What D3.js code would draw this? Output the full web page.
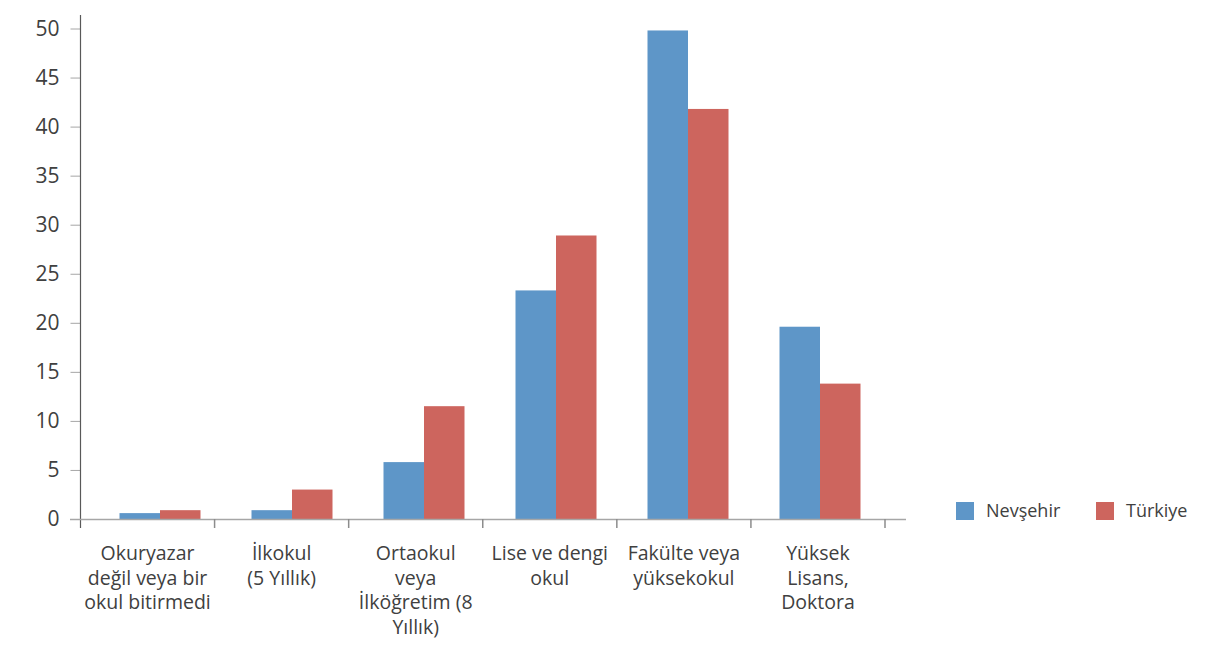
<!DOCTYPE html>
<html><head><meta charset="utf-8">
<script src="https://cdn.jsdelivr.net/npm/d3@7"></script>
<style>
html,body{margin:0;padding:0;background:#fff;}
svg text{font-family:"Open Sans","Noto Sans",sans-serif;fill:#404040;}
</style></head>
<body><svg id="chart" width="1232" height="655"></svg>
<script>
const categories = [
  "Okuryazar\ndeğil veya bir\nokul bitirmedi",
  "İlkokul\n(5 Yıllık)",
  "Ortaokul\nveya\nİlköğretim (8\nYıllık)",
  "Lise ve dengi\nokul",
  "Fakülte veya\nyüksekokul",
  "Yüksek\nLisans,\nDoktora"
];
const seriesNames = ["Nevşehir", "Türkiye"];
const nevsehir = [0.6, 0.9, 5.8, 23.3, 49.8, 19.6];
const turkiye  = [0.9, 3.0, 11.5, 28.9, 41.8, 13.8];
const yTicks = [0, 5, 10, 15, 20, 25, 30, 35, 40, 45, 50];
const colors = ["#5e96c8", "#cd655e"];

(function () {
const svg = d3.select("#chart");
const pLeft = 80.5, pRight = 885, pTop = 28.5, pBottom = 519;

const x0 = d3.scaleBand().domain(categories).range([pLeft, pRight]).padding(0);
const xBar = d3.scaleBand().domain(categories).range([94, 886]).padding(0);
const x1 = d3.scaleBand().domain(seriesNames).range([-40.5, 40.5]).padding(0);
const y = d3.scaleLinear().domain([0, 50]).range([pBottom, pTop]);

const data = categories.map((c, i) => ({cat: c, vals: [nevsehir[i], turkiye[i]]}));

// bars
const g = svg.append("g");
const groups = g.selectAll("g.cat").data(data).join("g")
  .attr("transform", d => `translate(${xBar(d.cat) + xBar.bandwidth() / 2},0)`);
groups.selectAll("rect").data(d => d.vals.map((v, j) => ({name: seriesNames[j], v, j})))
  .join("rect")
  .attr("x", d => x1(d.name))
  .attr("width", x1.bandwidth())
  .attr("y", d => y(d.v))
  .attr("height", d => y(0) - y(d.v))
  .attr("fill", d => colors[d.j]);

// y axis
const yAxis = d3.axisLeft(y).tickValues(yTicks).tickSize(10).tickPadding(11).tickFormat(d3.format("d"));
const ya = svg.append("g").attr("transform", `translate(${pLeft},0)`).call(yAxis);
ya.select(".domain").remove();
ya.selectAll(".tick line").attr("stroke", "#a6a6a6");
ya.selectAll(".tick text").attr("font-size", 21).style("fill", "#404040");
svg.append("line").attr("x1", pLeft).attr("x2", pLeft).attr("y1", 15).attr("y2", 528)
  .attr("stroke", "#595959").attr("stroke-width", 1.2);

// x axis baseline
svg.append("line").attr("x1", 70).attr("x2", 906).attr("y1", pBottom + 0.5).attr("y2", pBottom + 0.5)
  .attr("stroke", "#a6a6a6").attr("stroke-width", 1.5);
// x tick marks at band boundaries
const bounds = categories.map(c => x0(c)).concat([pRight]);
svg.append("g").selectAll("line").data(bounds.slice(1)).join("line")
  .attr("x1", d => d).attr("x2", d => d).attr("y1", pBottom).attr("y2", 528)
  .attr("stroke", "#8c8c8c").attr("stroke-width", 1.5);

// x labels
const xl = svg.append("g").selectAll("text").data(categories).join("text")
  .attr("text-anchor", "middle")
  .attr("font-size", 19.5)
  .attr("x", d => x0(d) + x0.bandwidth() / 2)
  .attr("y", 560);
xl.selectAll("tspan").data(d => d.split("\n")).join("tspan")
  .attr("x", function() { return this.parentNode.getAttribute("x"); })
  .attr("dy", (d, i) => i === 0 ? 0 : 24.5)
  .text(d => d);

// legend
const lg = svg.append("g").selectAll("g").data(seriesNames).join("g")
  .attr("transform", (d, i) => `translate(${956 + i * 140},502)`);
lg.append("rect").attr("width", 18).attr("height", 18).attr("fill", (d, i) => colors[i]);
lg.append("text").attr("x", 30).attr("y", 9).attr("dy", "0.35em").attr("font-size", 18).text(d => d);
})();
</script></body></html>
